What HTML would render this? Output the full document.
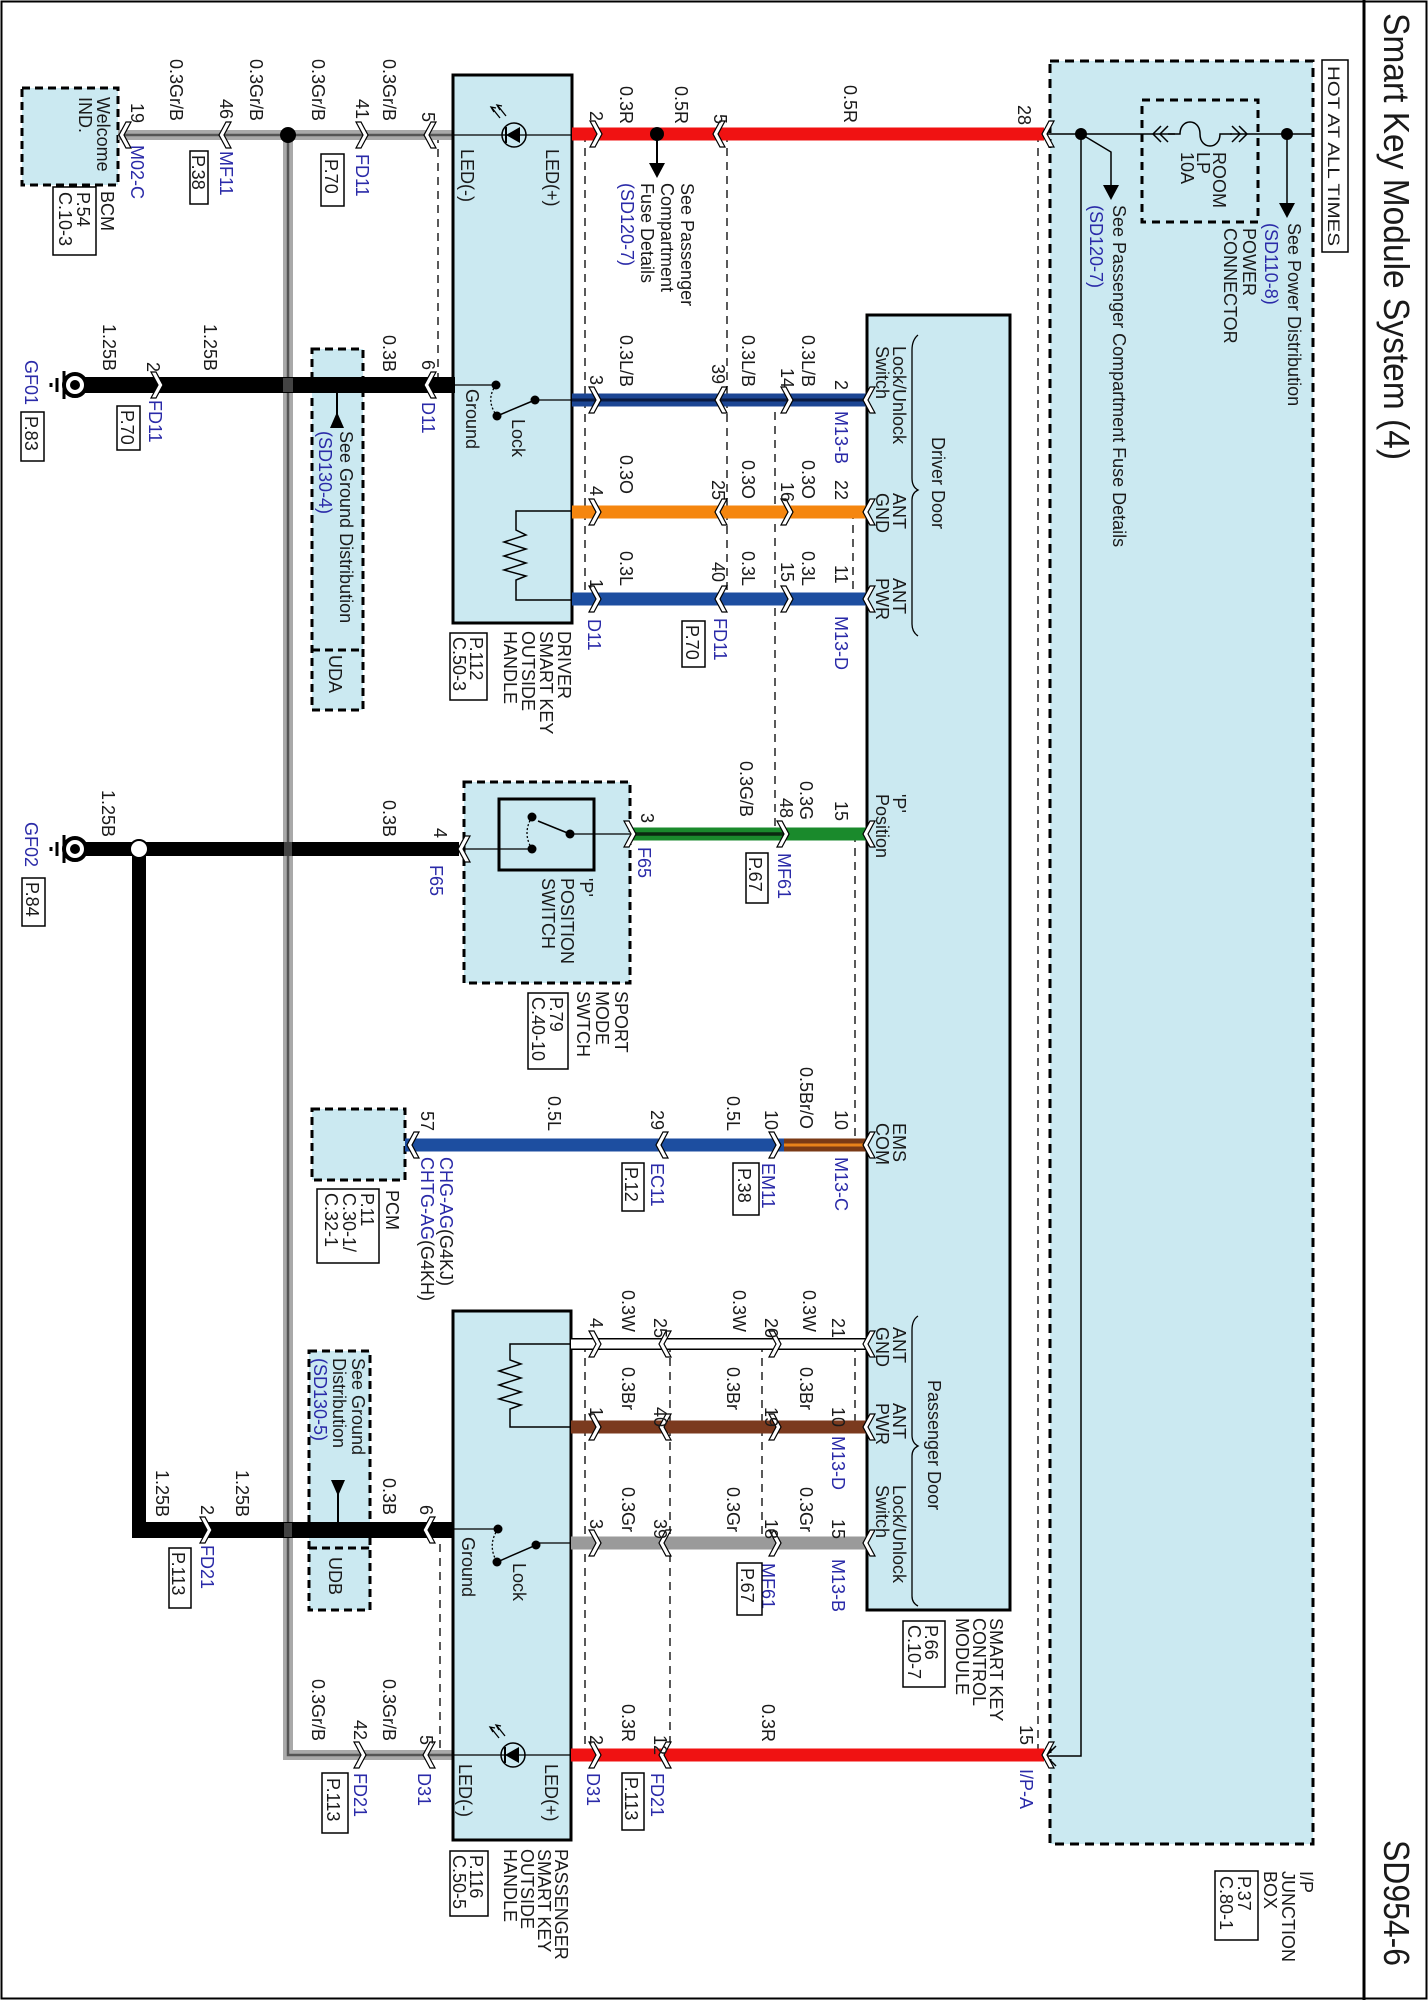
<!DOCTYPE html>
<html><head><meta charset="utf-8"><style>
html,body{margin:0;padding:0;background:#fff}
svg{display:block}
text{font-family:"Liberation Sans",Arial,sans-serif;font-size:18px;fill:#1a1a1a}
.b{fill:#2a2aa8}
.s{font-size:17px}
</style></head><body>
<svg width="1428" height="2000" viewBox="0 0 1428 2000" xmlns="http://www.w3.org/2000/svg">
<defs>
<path id="cr" d="M-9,-13 L-2,0 L-9,13 L-4,13 L3,0 L-4,-13Z" fill="#fff" stroke="#000" stroke-width="1.2"/>
<path id="cl" d="M9,-13 L2,0 L9,13 L4,13 L-3,0 L4,-13Z" fill="#fff" stroke="#000" stroke-width="1.2"/>
</defs>
<rect x="0" y="0" width="1428" height="2000" fill="#fff"/>
<!-- frame -->
<rect x="1.5" y="1.5" width="1425" height="1997" fill="none" stroke="#000" stroke-width="2"/>
<line x1="1364" y1="0" x2="1364" y2="2000" stroke="#000" stroke-width="3"/>
<text transform="translate(1384,13) rotate(90)" style="font-size:36px" textLength="447" lengthAdjust="spacingAndGlyphs">Smart Key Module System (4)</text>
<text transform="translate(1384,1840) rotate(90)" style="font-size:36px" textLength="126" lengthAdjust="spacingAndGlyphs">SD954-6</text>

<!-- Junction box -->
<rect x="1050" y="61" width="263" height="1783" fill="#cbe9f1" stroke="#000" stroke-width="3" stroke-dasharray="9,6"/>
<rect x="1322" y="60" width="26" height="192" fill="#fff" stroke="#000" stroke-width="1.5"/>
<text transform="translate(1328,66) rotate(90)" class="s" textLength="180" lengthAdjust="spacingAndGlyphs">HOT AT ALL TIMES</text>
<rect x="1142" y="100" width="116" height="122" fill="none" stroke="#000" stroke-width="3" stroke-dasharray="8,6"/>
<line x1="1044" y1="134" x2="1313" y2="134" stroke="#000" stroke-width="1.5"/>
<rect x="1175" y="120" width="55" height="28" fill="#cbe9f1"/>
<path d="M1153,126 L1161,134 L1153,142 M1160,126 L1168,134 L1160,142" fill="none" stroke="#000" stroke-width="1.5" transform="translate(2321,0) scale(-1,1)"/>
<path d="M1232,126 L1240,134 L1232,142 M1239,126 L1247,134 L1239,142" fill="none" stroke="#000" stroke-width="1.5"/>
<path d="M1168,134 L1180,134 C1180,118 1200,118 1200,134 C1200,150 1220,150 1220,134 L1232,134" fill="none" stroke="#000" stroke-width="1.5"/>
<circle cx="1287" cy="134" r="6" fill="#000"/>
<line x1="1287" y1="134" x2="1287" y2="205" stroke="#000" stroke-width="1.5"/>
<polygon points="1279,203 1295,203 1287,218" fill="#000"/>
<text transform="translate(1213,152) rotate(90)"><tspan x="0">ROOM</tspan><tspan x="0" dy="16">LP</tspan><tspan x="0" dy="16">10A</tspan></text>
<text transform="translate(1288,223) rotate(90)">See Power Distribution</text>
<text transform="translate(1265,223) rotate(90)" class="b">(SD110-8)</text>
<text transform="translate(1243,228) rotate(90)"><tspan x="0">POWER</tspan><tspan x="0" dy="19">CONNECTOR</tspan></text>
<circle cx="1081" cy="134" r="6" fill="#000"/>
<path d="M1081,134 L1111,152 L1111,188" fill="none" stroke="#000" stroke-width="1.5"/>
<polygon points="1103,185 1119,185 1111,200" fill="#000"/>
<text transform="translate(1113,205) rotate(90)">See Passenger Compartment Fuse Details</text>
<text transform="translate(1090,205) rotate(90)" class="b">(SD120-7)</text>
<path d="M1081,134 L1081,1756 L1044,1756" fill="none" stroke="#000" stroke-width="1.5"/>
<path d="M1056,1746 L1046,1756 L1056,1766" fill="none" stroke="#000" stroke-width="1.5"/>
<text transform="translate(1300,1871) rotate(90)"><tspan x="0">I/P</tspan><tspan x="0" dy="18">JUNCTION</tspan><tspan x="0" dy="18">BOX</tspan></text>
<rect x="1215" y="1871" width="43" height="69" fill="#fff" stroke="#000" stroke-width="1.5"/>
<text transform="translate(1238,1876) rotate(90)"><tspan x="0">P.37</tspan><tspan x="0" dy="18">C.80-1</tspan></text>

<!-- SKCM -->
<rect x="867" y="315" width="143" height="1295" fill="#cbe9f1" stroke="#000" stroke-width="3"/>
<text transform="translate(932,437) rotate(90)">Driver Door</text>
<path d="M918,335 Q912,340 912,350 L912,478 Q912,487 918,490 Q912,493 912,500 L912,624 Q912,632 918,636" fill="none" stroke="#000" stroke-width="1.3"/>
<text transform="translate(893,346) rotate(90)"><tspan x="0">Lock/Unlock</tspan><tspan x="0" dy="17">Switch</tspan></text>
<text transform="translate(893,493) rotate(90)"><tspan x="0">ANT</tspan><tspan x="0" dy="17">GND</tspan></text>
<text transform="translate(893,578) rotate(90)"><tspan x="0">ANT</tspan><tspan x="0" dy="17">PWR</tspan></text>
<text transform="translate(893,794) rotate(90)"><tspan x="0">'P'</tspan><tspan x="0" dy="17">Position</tspan></text>
<text transform="translate(893,1123) rotate(90)"><tspan x="0">EMS</tspan><tspan x="0" dy="17">COM</tspan></text>
<text transform="translate(928,1380) rotate(90)">Passenger Door</text>
<path d="M918,1316 Q912,1320 912,1330 L912,1435 Q912,1443 918,1446 Q912,1449 912,1456 L912,1596 Q912,1603 918,1606" fill="none" stroke="#000" stroke-width="1.3"/>
<text transform="translate(893,1327) rotate(90)"><tspan x="0">ANT</tspan><tspan x="0" dy="17">GND</tspan></text>
<text transform="translate(893,1403) rotate(90)"><tspan x="0">ANT</tspan><tspan x="0" dy="17">PWR</tspan></text>
<text transform="translate(893,1485) rotate(90)"><tspan x="0">Lock/Unlock</tspan><tspan x="0" dy="17">Switch</tspan></text>
<text transform="translate(990,1618) rotate(90)"><tspan x="0">SMART KEY</tspan><tspan x="0" dy="17">CONTROL</tspan><tspan x="0" dy="17">MODULE</tspan></text>
<rect x="903" y="1621" width="42" height="66" fill="#fff" stroke="#000" stroke-width="1.5"/>
<text transform="translate(925,1625) rotate(90)"><tspan x="0">P.66</tspan><tspan x="0" dy="17">C.10-7</tspan></text>

<!-- dashed verticals -->
<g stroke="#000" stroke-width="1.3" stroke-dasharray="8,6" fill="none">
<line x1="438" y1="135" x2="438" y2="385"/>
<line x1="585" y1="134" x2="585" y2="600"/>
<line x1="727" y1="134" x2="727" y2="600"/>
<line x1="775" y1="398" x2="775" y2="834"/>
<line x1="853" y1="511" x2="853" y2="600"/>
<line x1="855" y1="834" x2="855" y2="1145"/>
<line x1="1038" y1="134" x2="1038" y2="1756"/>
<line x1="440" y1="1530" x2="440" y2="1755"/>
<line x1="585" y1="1344" x2="585" y2="1755"/>
<line x1="670" y1="1344" x2="670" y2="1755"/>
<line x1="762" y1="1344" x2="762" y2="1543"/>
<line x1="855" y1="1344" x2="855" y2="1427"/>
</g>

<!-- BCM -->
<rect x="22" y="88" width="96" height="97" fill="#cbe9f1" stroke="#000" stroke-width="3" stroke-dasharray="8,5"/>
<text transform="translate(97,97) rotate(90)"><tspan x="0">Welcome</tspan><tspan x="0" dy="18">IND.</tspan></text>
<text transform="translate(101,191) rotate(90)">BCM</text>
<rect x="53" y="187" width="43" height="68" fill="#fff" stroke="#000" stroke-width="1.5"/>
<text transform="translate(77,192) rotate(90)"><tspan x="0">P.54</tspan><tspan x="0" dy="18">C.10-3</tspan></text>

<!-- gray wire -->
<path d="M118,135 L288,135 M288,135 L455,135 M288,135 L288,1755 L453,1755" fill="none" stroke="#a9a9a9" stroke-width="10"/>
<path d="M118,135 L455,135 M288,135 L288,1755 L453,1755" fill="none" stroke="#555" stroke-width="2.5"/>
<circle cx="288" cy="135" r="8" fill="#000"/>
<use href="#cl" x="122" y="135"/><use href="#cl" x="222" y="135"/><use href="#cr" x="365" y="135"/><use href="#cl" x="427" y="135"/>
<use href="#cr" x="363" y="1755"/><use href="#cl" x="426" y="1755"/>
<text transform="translate(170,59) rotate(90)">0.3Gr/B</text>
<text transform="translate(250,59) rotate(90)">0.3Gr/B</text>
<text transform="translate(312,59) rotate(90)">0.3Gr/B</text>
<text transform="translate(383,59) rotate(90)">0.3Gr/B</text>
<text transform="translate(131,103) rotate(90)">19</text>
<text transform="translate(220,99) rotate(90)">46</text>
<text transform="translate(356,99) rotate(90)">41</text>
<text transform="translate(422,112) rotate(90)">5</text>
<text transform="translate(131,145) rotate(90)" class="b">M02-C</text>
<text transform="translate(220,151) rotate(90)" class="b">MF11</text>
<text transform="translate(356,154) rotate(90)" class="b">FD11</text>
<rect x="190" y="151" width="18" height="53" fill="#fff" stroke="#000" stroke-width="1.5"/>
<text transform="translate(192,155) rotate(90)">P.38</text>
<rect x="321" y="154" width="23" height="52" fill="#fff" stroke="#000" stroke-width="1.5"/>
<text transform="translate(325,159) rotate(90)">P.70</text>

<!-- Driver handle -->
<rect x="453" y="75" width="119" height="548" fill="#cbe9f1" stroke="#000" stroke-width="3"/>
<line x1="453" y1="135" x2="572" y2="135" stroke="#000" stroke-width="1.3"/>
<circle cx="514" cy="135" r="12" fill="none" stroke="#000" stroke-width="1.5"/>
<polygon points="506,135 520,127 520,143" fill="#000"/><line x1="506" y1="127" x2="506" y2="143" stroke="#000" stroke-width="2"/>
<path d="M500,118 L492,108 M494,112 L491,107 L496,108 M506,116 L498,106 M500,110 L497,105 L502,106" fill="none" stroke="#000" stroke-width="1.3"/>
<text transform="translate(546,149) rotate(90)">LED(+)</text>
<text transform="translate(461,149) rotate(90)">LED(-)</text>
<line x1="453" y1="385" x2="496" y2="385" stroke="#000" stroke-width="1.3"/>
<circle cx="496" cy="385" r="4.5" fill="#000"/><circle cx="535" cy="400" r="4.5" fill="#000"/><circle cx="497" cy="416" r="4.5" fill="#000"/>
<line x1="535" y1="400" x2="497" y2="416" stroke="#000" stroke-width="1.5"/>
<line x1="535" y1="400" x2="572" y2="400" stroke="#000" stroke-width="1.3"/>
<path d="M496,385 Q485,400 497,416" fill="none" stroke="#000" stroke-width="1.3" stroke-dasharray="2,2"/>
<text transform="translate(512,419) rotate(90)">Lock</text>
<text transform="translate(466,389) rotate(90)">Ground</text>
<path d="M572,511 L516,511 L516,530 L526,535 L504,542 L526,549 L504,556 L526,563 L504,570 L526,576 L516,580 L516,600 L572,600" fill="none" stroke="#000" stroke-width="1.5"/>
<text transform="translate(558,631) rotate(90)"><tspan x="0">DRIVER</tspan><tspan x="0" dy="18">SMART KEY</tspan><tspan x="0" dy="18">OUTSIDE</tspan><tspan x="0" dy="18">HANDLE</tspan></text>
<rect x="450" y="633" width="37" height="67" fill="#fff" stroke="#000" stroke-width="1.5"/>
<text transform="translate(470,637) rotate(90)"><tspan x="0">P.112</tspan><tspan x="0" dy="17">C.50-3</tspan></text>

<!-- red top -->
<line x1="572" y1="134" x2="1044" y2="134" stroke="#f01212" stroke-width="13"/>
<use href="#cr" x="599" y="134"/><use href="#cl" x="716" y="134"/><use href="#cl" x="1045" y="134"/>
<circle cx="657" cy="134" r="7" fill="#000"/>
<line x1="657" y1="134" x2="657" y2="165" stroke="#000" stroke-width="2"/>
<polygon points="649,163 665,163 657,178" fill="#000"/>
<text transform="translate(590,111) rotate(90)">2</text>
<text transform="translate(620,86) rotate(90)">0.3R</text>
<text transform="translate(675,86) rotate(90)">0.5R</text>
<text transform="translate(714,114) rotate(90)">5</text>
<text transform="translate(844,85) rotate(90)">0.5R</text>
<text transform="translate(1018,105) rotate(90)">28</text>
<text transform="translate(681,183) rotate(90)"><tspan x="0">See Passenger</tspan><tspan x="0" dy="20">Compartment</tspan><tspan x="0" dy="20">Fuse Details</tspan></text>
<text transform="translate(621,183) rotate(90)" class="b">(SD120-7)</text>

<!-- driver signal wires -->
<line x1="572" y1="400" x2="867" y2="400" stroke="#1c4694" stroke-width="13"/>
<line x1="572" y1="400" x2="867" y2="400" stroke="#0a1a40" stroke-width="3"/>
<line x1="572" y1="512" x2="867" y2="512" stroke="#f5860f" stroke-width="13"/>
<line x1="572" y1="599" x2="867" y2="599" stroke="#1d4ea0" stroke-width="13"/>
<g>
<use href="#cr" x="598" y="400"/><use href="#cl" x="718" y="400"/><use href="#cr" x="790" y="400"/><use href="#cl" x="866" y="400"/>
<use href="#cr" x="598" y="512"/><use href="#cl" x="718" y="512"/><use href="#cr" x="790" y="512"/><use href="#cl" x="866" y="512"/>
<use href="#cr" x="598" y="599"/><use href="#cl" x="718" y="599"/><use href="#cr" x="790" y="599"/><use href="#cl" x="866" y="599"/>
</g>
<text transform="translate(590,375) rotate(90)">3</text>
<text transform="translate(590,486) rotate(90)">4</text>
<text transform="translate(590,579) rotate(90)">1</text>
<text transform="translate(620,335) rotate(90)">0.3L/B</text>
<text transform="translate(620,455) rotate(90)">0.3O</text>
<text transform="translate(620,551) rotate(90)">0.3L</text>
<text transform="translate(712,364) rotate(90)">39</text>
<text transform="translate(712,480) rotate(90)">25</text>
<text transform="translate(712,562) rotate(90)">40</text>
<text transform="translate(742,335) rotate(90)">0.3L/B</text>
<text transform="translate(742,460) rotate(90)">0.3O</text>
<text transform="translate(742,551) rotate(90)">0.3L</text>
<text transform="translate(781,368) rotate(90)">14</text>
<text transform="translate(781,482) rotate(90)">16</text>
<text transform="translate(781,562) rotate(90)">15</text>
<text transform="translate(802,335) rotate(90)">0.3L/B</text>
<text transform="translate(802,460) rotate(90)">0.3O</text>
<text transform="translate(802,551) rotate(90)">0.3L</text>
<text transform="translate(835,380) rotate(90)">2</text>
<text transform="translate(835,480) rotate(90)">22</text>
<text transform="translate(835,565) rotate(90)">11</text>
<text transform="translate(588,619) rotate(90)" class="b">D11</text>
<text transform="translate(714,618) rotate(90)" class="b">FD11</text>
<rect x="682" y="621" width="23" height="46" fill="#fff" stroke="#000" stroke-width="1.5"/>
<text transform="translate(686,625) rotate(90)">P.70</text>
<text transform="translate(835,411) rotate(90)" class="b">M13-B</text>
<text transform="translate(835,616) rotate(90)" class="b">M13-D</text>

<!-- driver ground -->
<rect x="312" y="349" width="51" height="361" fill="#cbe9f1" stroke="#000" stroke-width="3" stroke-dasharray="8,5"/>
<line x1="312" y1="650" x2="363" y2="650" stroke="#000" stroke-width="3" stroke-dasharray="8,5"/>
<line x1="75" y1="385" x2="455" y2="385" stroke="#000" stroke-width="16"/>
<line x1="288" y1="378" x2="288" y2="392" stroke="#a9a9a9" stroke-width="10" opacity="0.4"/>
<circle cx="75" cy="385" r="11" fill="#fff" stroke="#000" stroke-width="4"/>
<circle cx="75" cy="385" r="5" fill="#000"/>
<line x1="64" y1="371" x2="64" y2="399" stroke="#000" stroke-width="3"/>
<line x1="57" y1="378" x2="57" y2="392" stroke="#000" stroke-width="3"/>
<line x1="51" y1="383" x2="51" y2="387" stroke="#000" stroke-width="3"/>
<use href="#cr" x="160" y="385"/><use href="#cl" x="427" y="385"/>
<circle cx="337" cy="385" r="8" fill="#000"/>
<line x1="337" y1="385" x2="337" y2="420" stroke="#000" stroke-width="2"/>
<polygon points="337,412 330,428 344,428" fill="#000"/>
<text transform="translate(103,324) rotate(90)">1.25B</text>
<text transform="translate(204,324) rotate(90)">1.25B</text>
<text transform="translate(147,362) rotate(90)">2</text>
<text transform="translate(149,400) rotate(90)" class="b">FD11</text>
<rect x="117" y="406" width="23" height="44" fill="#fff" stroke="#000" stroke-width="1.5"/>
<text transform="translate(121,410) rotate(90)">P.70</text>
<text transform="translate(25,360) rotate(90)" class="b">GF01</text>
<rect x="21" y="412" width="23" height="49" fill="#fff" stroke="#000" stroke-width="1.5"/>
<text transform="translate(25,416) rotate(90)">P.83</text>
<text transform="translate(383,335) rotate(90)">0.3B</text>
<text transform="translate(422,360) rotate(90)">6</text>
<text transform="translate(422,402) rotate(90)" class="b">D11</text>
<text transform="translate(340,431) rotate(90)">See Ground Distribution</text>
<text transform="translate(319,431) rotate(90)" class="b">(SD130-4)</text>
<text transform="translate(329,655) rotate(90)">UDA</text>

<!-- P switch -->
<rect x="464" y="782" width="166" height="201" fill="#cbe9f1" stroke="#000" stroke-width="3" stroke-dasharray="8,5"/>
<rect x="499" y="799" width="95" height="71" fill="none" stroke="#000" stroke-width="3"/>
<line x1="75" y1="849" x2="459" y2="849" stroke="#000" stroke-width="14"/>
<line x1="139" y1="849" x2="139" y2="1537" stroke="#000" stroke-width="14"/>
<line x1="132" y1="1530" x2="453" y2="1530" stroke="#000" stroke-width="16"/>
<line x1="288" y1="842" x2="288" y2="856" stroke="#a9a9a9" stroke-width="8" opacity="0.4"/>
<circle cx="75" cy="849" r="11" fill="#fff" stroke="#000" stroke-width="4"/>
<circle cx="75" cy="849" r="5" fill="#000"/>
<line x1="64" y1="835" x2="64" y2="863" stroke="#000" stroke-width="3"/>
<line x1="57" y1="842" x2="57" y2="856" stroke="#000" stroke-width="3"/>
<line x1="51" y1="847" x2="51" y2="851" stroke="#000" stroke-width="3"/>
<circle cx="139" cy="849" r="9" fill="#fff" stroke="#000" stroke-width="2"/>
<use href="#cl" x="461" y="849"/>
<line x1="464" y1="849" x2="532" y2="849" stroke="#000" stroke-width="1.3"/>
<circle cx="532" cy="817" r="4.5" fill="#000"/><circle cx="570" cy="834" r="4.5" fill="#000"/><circle cx="532" cy="849" r="4.5" fill="#000"/>
<line x1="570" y1="834" x2="538" y2="821" stroke="#000" stroke-width="1.5"/>
<path d="M532,817 Q522,833 532,849" fill="none" stroke="#000" stroke-width="1.3" stroke-dasharray="2,2"/>
<line x1="570" y1="834" x2="630" y2="834" stroke="#000" stroke-width="1.3"/>
<line x1="631" y1="834" x2="867" y2="834" stroke="#1a8a2c" stroke-width="13"/>
<line x1="631" y1="834" x2="784" y2="834" stroke="#0b2a10" stroke-width="3.5"/>
<use href="#cr" x="633" y="834"/><use href="#cr" x="786" y="834"/><use href="#cl" x="866" y="834"/>
<text transform="translate(102,790) rotate(90)">1.25B</text>
<text transform="translate(25,822) rotate(90)" class="b">GF02</text>
<rect x="22" y="878" width="23" height="48" fill="#fff" stroke="#000" stroke-width="1.5"/>
<text transform="translate(26,882) rotate(90)">P.84</text>
<text transform="translate(383,800) rotate(90)">0.3B</text>
<text transform="translate(434,828) rotate(90)">4</text>
<text transform="translate(430,865) rotate(90)" class="b">F65</text>
<text transform="translate(580,878) rotate(90)"><tspan x="0">'P'</tspan><tspan x="0" dy="19">POSITION</tspan><tspan x="0" dy="19">SWITCH</tspan></text>
<text transform="translate(615,991) rotate(90)"><tspan x="0">SPORT</tspan><tspan x="0" dy="19">MODE</tspan><tspan x="0" dy="19">SWTCH</tspan></text>
<rect x="528" y="993" width="40" height="76" fill="#fff" stroke="#000" stroke-width="1.5"/>
<text transform="translate(550,997) rotate(90)"><tspan x="0">P.79</tspan><tspan x="0" dy="18">C.40-10</tspan></text>
<text transform="translate(641,813) rotate(90)">3</text>
<text transform="translate(638,847) rotate(90)" class="b">F65</text>
<text transform="translate(740,761) rotate(90)">0.3G/B</text>
<text transform="translate(780,798) rotate(90)">48</text>
<text transform="translate(778,853) rotate(90)" class="b">MF61</text>
<rect x="746" y="853" width="22" height="50" fill="#fff" stroke="#000" stroke-width="1.5"/>
<text transform="translate(749,857) rotate(90)">P.67</text>
<text transform="translate(800,781) rotate(90)">0.3G</text>
<text transform="translate(835,801) rotate(90)">15</text>

<!-- EMS / PCM -->
<rect x="312" y="1109" width="93" height="71" fill="#cbe9f1" stroke="#000" stroke-width="3" stroke-dasharray="8,5"/>
<line x1="405" y1="1145" x2="784" y2="1145" stroke="#1d4ea0" stroke-width="13"/>
<line x1="784" y1="1145" x2="867" y2="1145" stroke="#7a3a16" stroke-width="13"/>
<line x1="784" y1="1145" x2="867" y2="1145" stroke="#e8821a" stroke-width="3"/>
<use href="#cl" x="410" y="1145"/><use href="#cl" x="659" y="1145"/><use href="#cr" x="778" y="1145"/><use href="#cl" x="866" y="1145"/>
<text transform="translate(421,1111) rotate(90)">57</text>
<text transform="translate(440,1157) rotate(90)"><tspan class="b">CHG-AG</tspan>(G4KJ)</text>
<text transform="translate(421,1157) rotate(90)"><tspan class="b">CHTG-AG</tspan>(G4KH)</text>
<text transform="translate(386,1190) rotate(90)">PCM</text>
<rect x="317" y="1189" width="62" height="74" fill="#fff" stroke="#000" stroke-width="1.5"/>
<text transform="translate(361,1193) rotate(90)"><tspan x="0">P.11</tspan><tspan x="0" dy="18">C.30-1/</tspan><tspan x="0" dy="18">C.32-1</tspan></text>
<text transform="translate(548,1096) rotate(90)">0.5L</text>
<text transform="translate(651,1110) rotate(90)">29</text>
<text transform="translate(651,1163) rotate(90)" class="b">EC11</text>
<rect x="622" y="1163" width="22" height="48" fill="#fff" stroke="#000" stroke-width="1.5"/>
<text transform="translate(625,1167) rotate(90)">P.12</text>
<text transform="translate(727,1096) rotate(90)">0.5L</text>
<text transform="translate(765,1110) rotate(90)">10</text>
<text transform="translate(762,1163) rotate(90)" class="b">EM11</text>
<rect x="733" y="1163" width="26" height="52" fill="#fff" stroke="#000" stroke-width="1.5"/>
<text transform="translate(738,1168) rotate(90)">P.38</text>
<text transform="translate(800,1067) rotate(90)">0.5Br/O</text>
<text transform="translate(835,1110) rotate(90)">10</text>
<text transform="translate(835,1157) rotate(90)" class="b">M13-C</text>

<!-- Passenger handle -->
<rect x="309" y="1351" width="61" height="259" fill="#cbe9f1" stroke="#000" stroke-width="3" stroke-dasharray="8,5"/>
<line x1="309" y1="1548" x2="370" y2="1548" stroke="#000" stroke-width="3" stroke-dasharray="8,5"/>
<rect x="453" y="1311" width="118" height="529" fill="#cbe9f1" stroke="#000" stroke-width="3"/>
<line x1="132" y1="1530" x2="453" y2="1530" stroke="#000" stroke-width="16"/>
<line x1="288" y1="1523" x2="288" y2="1537" stroke="#a9a9a9" stroke-width="8" opacity="0.4"/>
<use href="#cr" x="209" y="1530"/><use href="#cl" x="426" y="1530"/>
<circle cx="338" cy="1530" r="8" fill="#000"/>
<line x1="338" y1="1530" x2="338" y2="1488" stroke="#000" stroke-width="2"/>
<polygon points="338,1496 331,1480 345,1480" fill="#000"/>
<text transform="translate(156,1470) rotate(90)">1.25B</text>
<text transform="translate(236,1470) rotate(90)">1.25B</text>
<text transform="translate(201,1505) rotate(90)">2</text>
<text transform="translate(201,1545) rotate(90)" class="b">FD21</text>
<rect x="169" y="1548" width="22" height="60" fill="#fff" stroke="#000" stroke-width="1.5"/>
<text transform="translate(172,1552) rotate(90)">P.113</text>
<text transform="translate(383,1478) rotate(90)">0.3B</text>
<text transform="translate(420,1505) rotate(90)">6</text>
<text transform="translate(352,1358) rotate(90)"><tspan x="0">See Ground</tspan><tspan x="0" dy="19">Distribution</tspan><tspan x="0" dy="19" class="b">(SD130-5)</tspan></text>
<text transform="translate(329,1557) rotate(90)">UDB</text>
<text transform="translate(312,1679) rotate(90)">0.3Gr/B</text>
<text transform="translate(383,1679) rotate(90)">0.3Gr/B</text>
<text transform="translate(354,1720) rotate(90)">42</text>
<text transform="translate(420,1735) rotate(90)">5</text>
<text transform="translate(354,1773) rotate(90)" class="b">FD21</text>
<rect x="322" y="1773" width="26" height="60" fill="#fff" stroke="#000" stroke-width="1.5"/>
<text transform="translate(327,1778) rotate(90)">P.113</text>
<text transform="translate(418,1773) rotate(90)" class="b">D31</text>

<line x1="453" y1="1755" x2="571" y2="1755" stroke="#000" stroke-width="1.3"/>
<circle cx="513" cy="1755" r="12" fill="none" stroke="#000" stroke-width="1.5"/>
<polygon points="505,1755 519,1747 519,1763" fill="#000"/><line x1="505" y1="1747" x2="505" y2="1763" stroke="#000" stroke-width="2"/>
<path d="M499,1738 L491,1728 M493,1732 L490,1727 L495,1728 M505,1736 L497,1726 M499,1730 L496,1725 L501,1726" fill="none" stroke="#000" stroke-width="1.3"/>
<text transform="translate(545,1764) rotate(90)">LED(+)</text>
<text transform="translate(459,1764) rotate(90)">LED(-)</text>
<line x1="453" y1="1529" x2="498" y2="1529" stroke="#000" stroke-width="1.3"/>
<circle cx="498" cy="1529" r="4.5" fill="#000"/><circle cx="536" cy="1545" r="4.5" fill="#000"/><circle cx="497" cy="1562" r="4.5" fill="#000"/>
<line x1="536" y1="1545" x2="497" y2="1562" stroke="#000" stroke-width="1.5"/>
<line x1="536" y1="1543" x2="571" y2="1543" stroke="#000" stroke-width="1.3"/>
<path d="M498,1529 Q487,1545 497,1562" fill="none" stroke="#000" stroke-width="1.3" stroke-dasharray="2,2"/>
<text transform="translate(513,1563) rotate(90)">Lock</text>
<text transform="translate(462,1537) rotate(90)">Ground</text>
<path d="M571,1344 L510,1344 L510,1360 L521,1364 L499,1371 L521,1378 L499,1385 L521,1392 L499,1399 L521,1405 L510,1409 L510,1427 L571,1427" fill="none" stroke="#000" stroke-width="1.5"/>
<text transform="translate(555,1849) rotate(90)"><tspan x="0">PASSENGER</tspan><tspan x="0" dy="17">SMART KEY</tspan><tspan x="0" dy="17">OUTSIDE</tspan><tspan x="0" dy="17">HANDLE</tspan></text>
<rect x="450" y="1851" width="38" height="65" fill="#fff" stroke="#000" stroke-width="1.5"/>
<text transform="translate(470,1855) rotate(90)"><tspan x="0">P.116</tspan><tspan x="0" dy="17">C.50-5</tspan></text>

<!-- passenger signal wires -->
<line x1="571" y1="1344" x2="867" y2="1344" stroke="#000" stroke-width="12"/>
<line x1="571" y1="1344" x2="867" y2="1344" stroke="#fff" stroke-width="9"/>
<line x1="571" y1="1427" x2="867" y2="1427" stroke="#7b3a1e" stroke-width="13"/>
<line x1="571" y1="1543" x2="867" y2="1543" stroke="#9a9a9a" stroke-width="13"/>
<line x1="571" y1="1755" x2="1044" y2="1755" stroke="#f01212" stroke-width="13"/>
<g>
<use href="#cr" x="598" y="1344"/><use href="#cl" x="662" y="1344"/><use href="#cr" x="778" y="1344"/><use href="#cl" x="866" y="1344"/>
<use href="#cr" x="598" y="1427"/><use href="#cl" x="662" y="1427"/><use href="#cr" x="778" y="1427"/><use href="#cl" x="866" y="1427"/>
<use href="#cr" x="598" y="1543"/><use href="#cl" x="662" y="1543"/><use href="#cr" x="778" y="1543"/><use href="#cl" x="866" y="1543"/>
<use href="#cr" x="598" y="1755"/><use href="#cl" x="662" y="1755"/><use href="#cl" x="1045" y="1755"/>
</g>
<text transform="translate(622,1290) rotate(90)">0.3W</text>
<text transform="translate(733,1290) rotate(90)">0.3W</text>
<text transform="translate(803,1290) rotate(90)">0.3W</text>
<text transform="translate(590,1318) rotate(90)">4</text>
<text transform="translate(654,1318) rotate(90)">25</text>
<text transform="translate(765,1318) rotate(90)">20</text>
<text transform="translate(832,1318) rotate(90)">21</text>
<text transform="translate(622,1367) rotate(90)">0.3Br</text>
<text transform="translate(727,1367) rotate(90)">0.3Br</text>
<text transform="translate(800,1367) rotate(90)">0.3Br</text>
<text transform="translate(590,1407) rotate(90)">1</text>
<text transform="translate(654,1407) rotate(90)">40</text>
<text transform="translate(765,1407) rotate(90)">19</text>
<text transform="translate(832,1407) rotate(90)">10</text>
<text transform="translate(622,1487) rotate(90)">0.3Gr</text>
<text transform="translate(727,1487) rotate(90)">0.3Gr</text>
<text transform="translate(800,1487) rotate(90)">0.3Gr</text>
<text transform="translate(590,1519) rotate(90)">3</text>
<text transform="translate(654,1519) rotate(90)">39</text>
<text transform="translate(765,1519) rotate(90)">18</text>
<text transform="translate(832,1519) rotate(90)">15</text>
<text transform="translate(622,1704) rotate(90)">0.3R</text>
<text transform="translate(762,1704) rotate(90)">0.3R</text>
<text transform="translate(590,1735) rotate(90)">2</text>
<text transform="translate(654,1735) rotate(90)">12</text>
<text transform="translate(832,1436) rotate(90)" class="b">M13-D</text>
<text transform="translate(832,1559) rotate(90)" class="b">M13-B</text>
<text transform="translate(762,1563) rotate(90)" class="b">MF61</text>
<rect x="737" y="1563" width="25" height="52" fill="#fff" stroke="#000" stroke-width="1.5"/>
<text transform="translate(741,1568) rotate(90)">P.67</text>
<text transform="translate(587,1773) rotate(90)" class="b">D31</text>
<rect x="622" y="1773" width="22" height="57" fill="#fff" stroke="#000" stroke-width="1.5"/>
<text transform="translate(625,1777) rotate(90)">P.113</text>
<text transform="translate(651,1773) rotate(90)" class="b">FD21</text>
<text transform="translate(1020,1725) rotate(90)">15</text>
<text transform="translate(1020,1769) rotate(90)" class="b">I/P-A</text>
</svg>
</body></html>
